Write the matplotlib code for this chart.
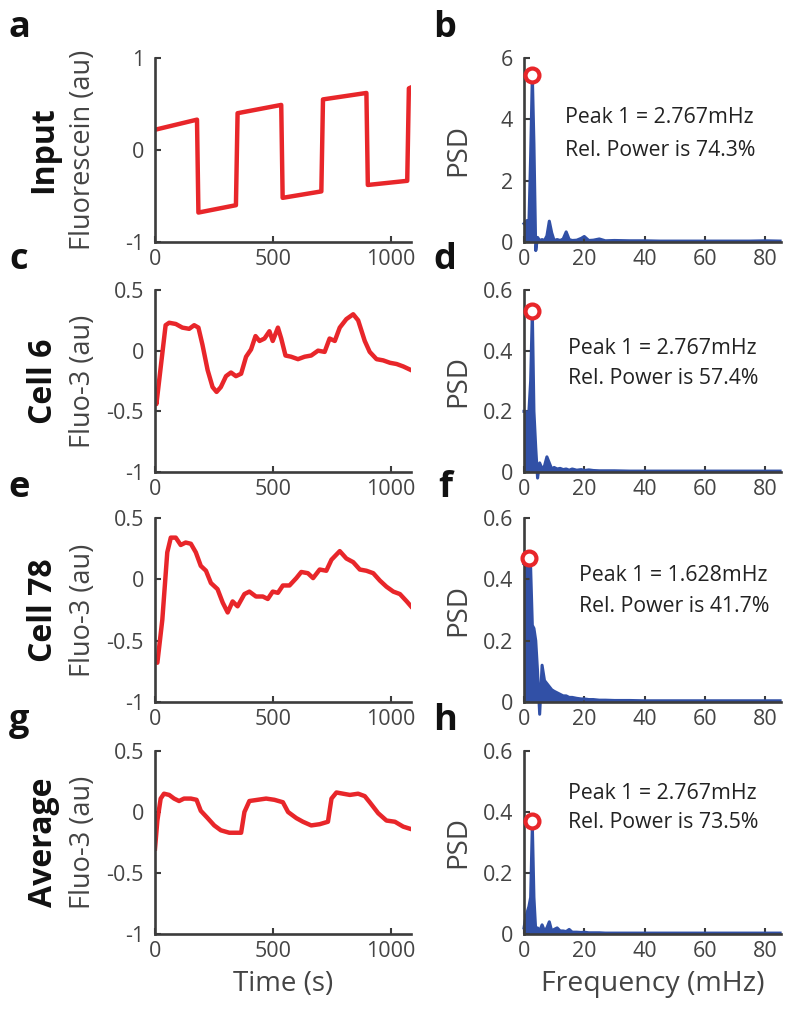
import matplotlib
matplotlib.use("Agg")
import matplotlib.pyplot as plt

plt.rcParams["font.family"] = ["Open Sans", "DejaVu Sans"]

RED = "#e8262a"
BLUE = "#3150a6"
AXIS_GRAY = "#3c3c3c"
TEXT_GRAY = "#444444"

# ---- time traces (s, au) ----
input_t = [0, 178, 184, 343, 350, 535, 541, 705, 712, 896, 902, 1069, 1076, 1085]
input_y = [0.22, 0.33, -0.68, -0.60, 0.40, 0.49, -0.52, -0.45, 0.55, 0.62, -0.38, -0.335, 0.67, 0.68]

cell6_t = [0, 6, 45, 60, 88, 116, 145, 166, 184, 201, 223, 244, 261, 279, 301, 322, 343, 365,
           386, 407, 426, 443, 464, 485, 499, 521, 535, 553, 577, 606, 634, 662, 691, 719,
           740, 762, 783, 811, 840, 861, 889, 910, 939, 967, 996, 1024, 1052, 1085]
cell6_y = [-0.33, -0.44, 0.21, 0.23, 0.22, 0.19, 0.18, 0.21, 0.19, 0.05, -0.16, -0.30, -0.34,
           -0.30, -0.21, -0.18, -0.21, -0.19, -0.05, 0.01, 0.12, 0.08, 0.10, 0.16, 0.08, 0.19,
           0.10, -0.04, -0.05, -0.07, -0.05, -0.04, 0.00, -0.01, 0.10, 0.08, 0.19, 0.26, 0.30,
           0.25, 0.08, -0.01, -0.07, -0.08, -0.10, -0.11, -0.13, -0.16]

cell78_t = [0, 10, 31, 52, 67, 88, 109, 130, 152, 173, 194, 216, 237, 265, 287, 308, 329, 350,
            379, 400, 428, 457, 478, 499, 521, 542, 570, 599, 620, 648, 670, 698, 726, 748,
            783, 811, 840, 868, 896, 925, 953, 981, 1010, 1038, 1067, 1085]
cell78_y = [-0.67, -0.68, -0.33, 0.22, 0.34, 0.34, 0.28, 0.30, 0.29, 0.22, 0.11, 0.07, -0.03,
            -0.08, -0.19, -0.27, -0.18, -0.22, -0.12, -0.10, -0.14, -0.14, -0.16, -0.10, -0.11,
            -0.05, -0.05, 0.01, 0.06, 0.05, 0.01, 0.08, 0.07, 0.16, 0.23, 0.17, 0.14, 0.08,
            0.07, 0.05, -0.01, -0.06, -0.10, -0.12, -0.18, -0.22]

avg_t = [0, 10, 24, 38, 60, 81, 102, 123, 152, 176, 194, 223, 251, 279, 315, 343, 365, 379,
         400, 435, 471, 506, 542, 564, 599, 627, 662, 698, 733, 748, 769, 797, 826, 861, 889,
         910, 946, 981, 1017, 1052, 1085]
avg_y = [-0.30, -0.07, 0.11, 0.15, 0.14, 0.11, 0.09, 0.11, 0.11, 0.10, 0.01, -0.05, -0.11,
         -0.15, -0.17, -0.17, -0.17, 0.00, 0.09, 0.10, 0.11, 0.10, 0.08, 0.00, -0.05, -0.08,
         -0.11, -0.10, -0.08, 0.11, 0.16, 0.15, 0.14, 0.15, 0.13, 0.08, -0.01, -0.07, -0.08,
         -0.12, -0.14]

# ---- power spectra (mHz, PSD) ----
freq = [0, 0.5, 1.0, 1.628, 2.2, 2.767, 3.3, 3.9, 4.5, 5.2, 6.0, 6.8, 7.6, 8.4, 9.2, 10.0,
        11.0, 12.0, 13.0, 14.0, 15.0, 16.0, 17.5, 19.0, 20.0, 21.5, 23.0, 25.0, 27.0, 30.0,
        35.0, 40.0, 45.0, 50.0, 55.0, 60.0, 65.0, 70.0, 75.0, 80.0, 85.0]
psd_input = [0.60, 0.65, 0.70, 0.60, 2.80, 5.45, 3.20, -0.28, 0.15, 0.05, 0.08, 0.05, 0.20,
             0.68, 0.30, 0.05, 0.08, 0.05, 0.10, 0.33, 0.08, 0.05, 0.06, 0.12, 0.18, 0.05,
             0.06, 0.10, 0.04, 0.05, 0.04, 0.04, 0.03, 0.03, 0.03, 0.03, 0.03, 0.03, 0.03,
             0.04, 0.03]
psd_cell6 = [0.20, 0.20, 0.19, 0.20, 0.30, 0.53, 0.20, 0.08, -0.02, 0.03, 0.01, 0.02, 0.05,
             0.03, 0.01, 0.015, 0.01, 0.012, 0.008, 0.01, 0.006, 0.01, 0.006, 0.008, 0.005,
             0.007, 0.005, 0.004, 0.004, 0.004, 0.003, 0.003, 0.003, 0.003, 0.003, 0.003,
             0.003, 0.003, 0.003, 0.003, 0.003]
psd_cell78 = [0.45, 0.46, 0.46, 0.47, 0.44, 0.25, 0.24, 0.20, 0.10, -0.04, 0.12, 0.07, 0.06,
              0.05, 0.04, 0.035, 0.03, 0.025, 0.02, 0.02, 0.015, 0.015, 0.012, 0.01, 0.01,
              0.008, 0.008, 0.006, 0.006, 0.005, 0.005, 0.004, 0.004, 0.004, 0.004, 0.004,
              0.004, 0.004, 0.004, 0.004, 0.004]
psd_avg = [0.02, 0.05, 0.07, 0.09, 0.12, 0.36, 0.12, 0.01, 0.02, 0.01, 0.03, 0.01, 0.02,
           0.04, 0.01, 0.015, 0.02, 0.01, 0.01, 0.008, 0.015, 0.006, 0.006, 0.005, 0.006,
           0.004, 0.004, 0.004, 0.003, 0.003, 0.003, 0.003, 0.003, 0.003, 0.003, 0.003,
           0.003, 0.003, 0.003, 0.003, 0.003]

peak_freq = [2.767, 2.767, 1.628, 2.767]
peak_psd = [5.45, 0.53, 0.47, 0.37]
peak_text = ["Peak 1 = 2.767mHz", "Peak 1 = 2.767mHz", "Peak 1 = 1.628mHz", "Peak 1 = 2.767mHz"]
power_text = ["Rel. Power is 74.3%", "Rel. Power is 57.4%", "Rel. Power is 41.7%", "Rel. Power is 73.5%"]

ROWS = [
    ("Input", "Fluorescein (au)", input_t, input_y, (-1, 1), [-1, 0, 1], ["-1", "0", "1"],
     psd_input, (0, 6), [0, 2, 4, 6], ["0", "2", "4", "6"]),
    ("Cell 6", "Fluo-3 (au)", cell6_t, cell6_y, (-1, 0.5), [-1, -0.5, 0, 0.5], ["-1", "-0.5", "0", "0.5"],
     psd_cell6, (0, 0.6), [0, 0.2, 0.4, 0.6], ["0", "0.2", "0.4", "0.6"]),
    ("Cell 78", "Fluo-3 (au)", cell78_t, cell78_y, (-1, 0.5), [-1, -0.5, 0, 0.5], ["-1", "-0.5", "0", "0.5"],
     psd_cell78, (0, 0.6), [0, 0.2, 0.4, 0.6], ["0", "0.2", "0.4", "0.6"]),
    ("Average", "Fluo-3 (au)", avg_t, avg_y, (-1, 0.5), [-1, -0.5, 0, 0.5], ["-1", "-0.5", "0", "0.5"],
     psd_avg, (0, 0.6), [0, 0.2, 0.4, 0.6], ["0", "0.2", "0.4", "0.6"]),
]

LETTERS = [("a", "b"), ("c", "d"), ("e", "f"), ("g", "h")]

# layout in pixels of a 791x1021 figure
W, H = 791, 1021
ROW_PX = [(58, 242), (290, 472), (518, 702), (751, 934)]
LEFT_PX = (155, 411)
RIGHT_PX = (524, 781)
TEXT_POS = [(0.16, 0.674, 0.50), (0.171, 0.68, 0.516), (0.214, 0.685, 0.52), (0.171, 0.77, 0.607)]


def style_axis(ax):
    for side in ("top", "right"):
        ax.spines[side].set_visible(False)
    for side in ("left", "bottom"):
        ax.spines[side].set_color(AXIS_GRAY)
        ax.spines[side].set_linewidth(1.9)
        ax.spines[side].set_zorder(5)
    ax.tick_params(direction="in", length=4, width=1.5, color=AXIS_GRAY,
                   labelcolor=TEXT_GRAY, labelsize=15.5)
    ax.tick_params(axis="y", pad=8)
    ax.tick_params(axis="x", pad=5)
    ax.set_facecolor("none")


fig = plt.figure(figsize=(W / 100, H / 100), dpi=100)

for i, row in enumerate(ROWS):
    name, ylab, t, y, ylim, yt, ytl, psd, plim, pt, ptl = row
    top, bottom = ROW_PX[i]
    b = 1 - bottom / H
    h = (bottom - top) / H

    ax = fig.add_axes([LEFT_PX[0] / W, b, (LEFT_PX[1] - LEFT_PX[0]) / W, h])
    ax.plot(t, y, color=RED, linewidth=3.2, solid_joinstyle="round")
    ax.set_xlim(0, 1085)
    ax.set_ylim(*ylim)
    ax.set_xticks([0, 500, 1000])
    ax.set_yticks(yt)
    ax.set_yticklabels(ytl)
    style_axis(ax)
    ax.set_ylabel(ylab, fontsize=19.5, color=TEXT_GRAY)
    ax.yaxis.set_label_coords(-0.227, 0.5)
    if i == len(ROWS) - 1:
        ax.set_xlabel("Time (s)", fontsize=20, color=TEXT_GRAY, labelpad=6)

    ax2 = fig.add_axes([RIGHT_PX[0] / W, b, (RIGHT_PX[1] - RIGHT_PX[0]) / W, h])
    ax2.fill_between(freq, psd, 0, color=BLUE, linewidth=0, clip_on=False)
    ax2.plot(freq, psd, color=BLUE, linewidth=2.2, clip_on=False)
    ax2.plot([peak_freq[i]], [peak_psd[i]], "o", markersize=10, markerfacecolor="white",
             markeredgecolor=RED, markeredgewidth=3, zorder=6, clip_on=False)
    ax2.set_xlim(0, 85.3)
    ax2.set_ylim(*plim)
    ax2.set_xticks([0, 20, 40, 60, 80])
    ax2.set_yticks(pt)
    ax2.set_yticklabels(ptl)
    style_axis(ax2)
    ax2.set_ylabel("PSD", fontsize=20, color=TEXT_GRAY)
    ax2.yaxis.set_label_coords(-0.202, 0.5)
    if i == len(ROWS) - 1:
        ax2.set_xlabel("Frequency (mHz)", fontsize=20.5, color=TEXT_GRAY, labelpad=6)

    tx, ty1, ty2 = TEXT_POS[i]
    ax2.text(tx, ty1, peak_text[i], transform=ax2.transAxes, fontsize=15.3,
             color="#222222", va="center", ha="left")
    ax2.text(tx, ty2, power_text[i], transform=ax2.transAxes, fontsize=15.3,
             color="#222222", va="center", ha="left")

    # row name and panel letters
    mid = 1 - (top + bottom) / 2 / H
    fig.text(44 / W, mid, name, rotation=90, fontsize=23, fontweight="bold",
             color="#111111", ha="center", va="center")
    fig.text(19 / W, 1 - (top - 30) / H, LETTERS[i][0], fontsize=26, fontweight="bold",
             color="#111111", ha="center", va="center")
    fig.text(445 / W, 1 - (top - 30) / H, LETTERS[i][1], fontsize=26, fontweight="bold",
             color="#111111", ha="center", va="center")

fig.savefig("out.png", dpi=100)
plt.close(fig)
